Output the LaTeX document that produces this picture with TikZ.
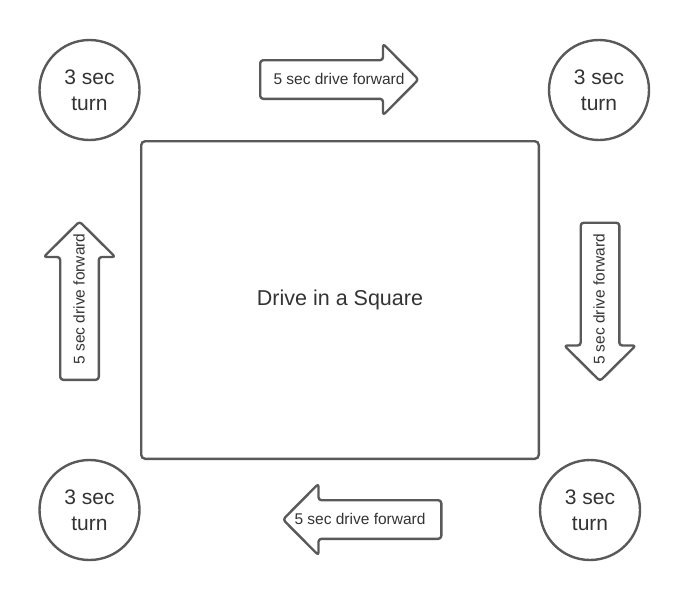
\documentclass[tikz,border=0pt]{standalone}
\usepackage{fontspec}
\setmainfont{Liberation Sans}
\definecolor{lineC}{HTML}{595959}
\definecolor{textC}{HTML}{333333}

\tikzstyle{cS}=[circle,minimum size = 100pt,inner sep = 0pt,draw=lineC,line width=2.4pt,text=textC,font=\fontsize{21}{26}\selectfont,align=center]
\tikzstyle{aS}=[draw=lineC,line width=2.4pt,rounded corners=3pt,line join=round]
\tikzstyle{tS}=[inner sep = 0pt,text=textC,font=\fontsize{15.5}{18}\selectfont]
\tikzstyle{bS}=[rectangle,minimum width=397.6pt,minimum height=317.6pt,inner sep=0pt,draw=lineC,line width=2.4pt,rounded corners=4pt,text=textC,font=\fontsize{21.5}{26}\selectfont]
\def\arrowpath{(-78.8,-19.3) -- (44,-19.3) -- (44,-35.8) -- (79.5,0) -- (44,35.8) -- (44,19.3) -- (-78.8,19.3) -- cycle}

\begin{document}
\begin{tikzpicture}[x=1pt,y=-1pt]
                \useasboundingbox (0,0) rectangle (690,600);
                % the square
                \draw (340,300) node[bS] (sq) {Drive in a Square};
                % corner turns
                \draw (89.5,90) node[cS] (t0) {3 sec\\turn};
                \draw (599,90) node[cS] (t1) {3 sec\\turn};
                \draw (590,510) node[cS] (t2) {3 sec\\turn};
                \draw (89.5,510) node[cS] (t3) {3 sec\\turn};
                % forward drives
                \draw[aS,shift={(339,79.5)}] \arrowpath;
                \draw[aS,shift={(600,301.5)},rotate=-90] \arrowpath;
                \draw[aS,shift={(362.5,519.5)},rotate=180] \arrowpath;
                \draw[aS,shift={(79.5,301)},rotate=90] \arrowpath;
                \node[tS] (d0) at (339,78.5) {5 sec drive forward};
                \node[tS,rotate=90] (d1) at (599,299.5) {5 sec drive forward};
                \node[tS] (d2) at (360,518.5) {5 sec drive forward};
                \node[tS,rotate=90] (d3) at (79,299) {5 sec drive forward};
\end{tikzpicture}
\end{document}
